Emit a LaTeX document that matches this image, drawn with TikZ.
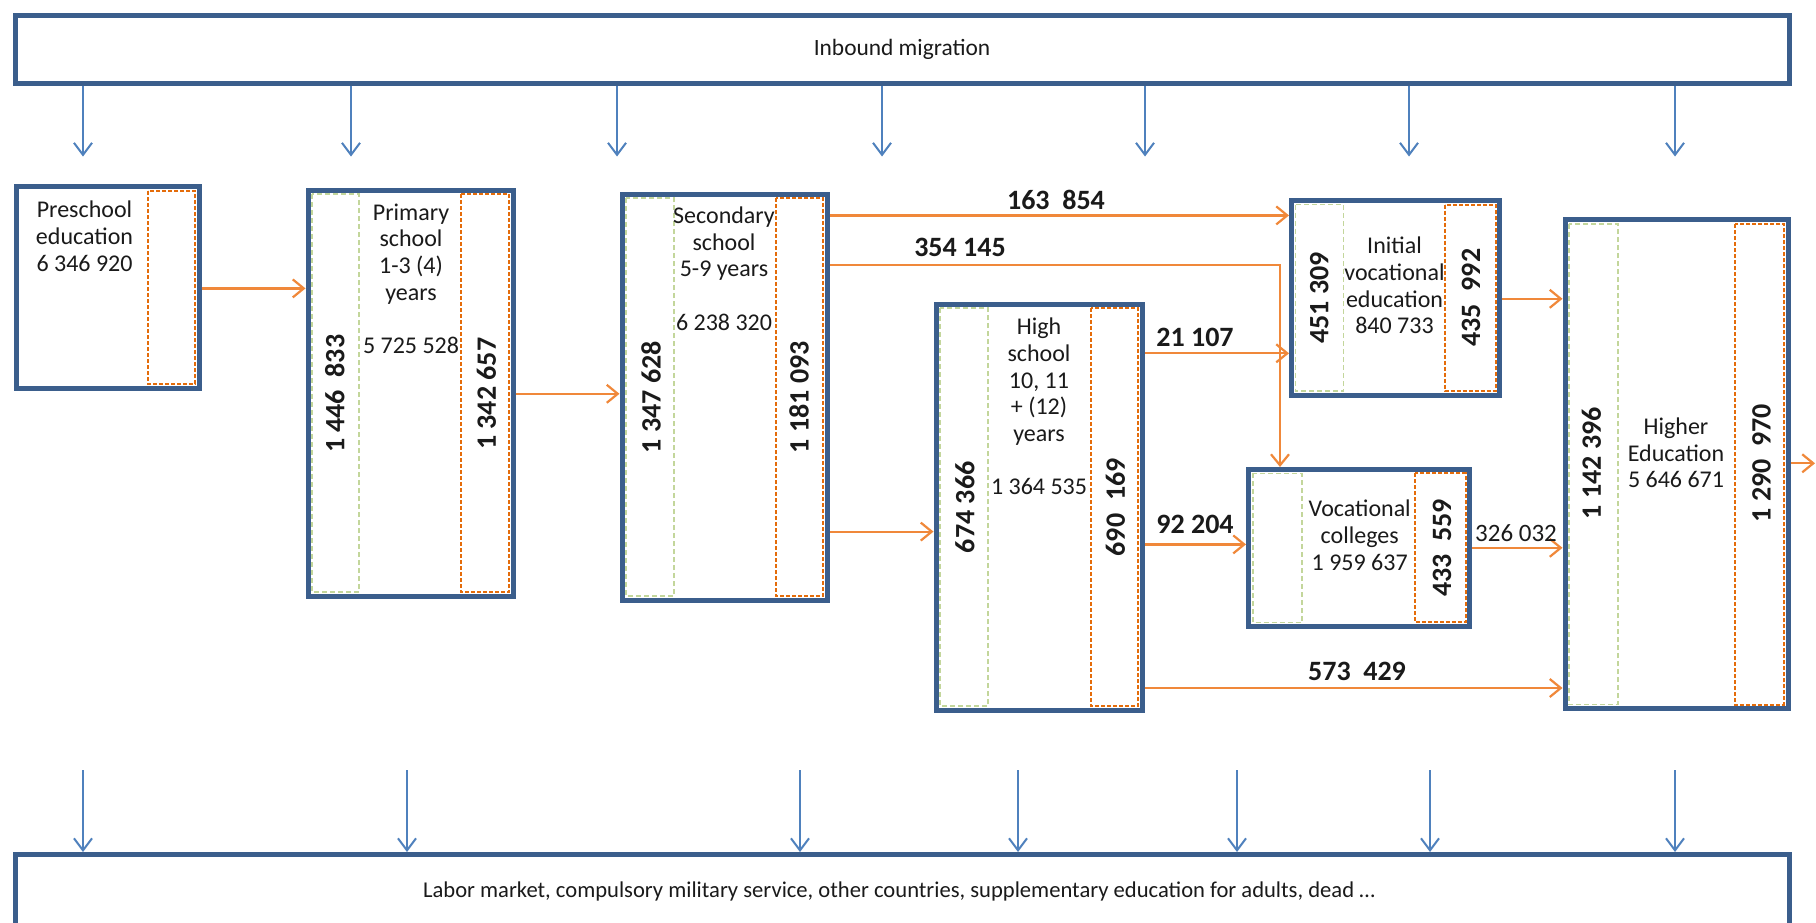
\documentclass[tikz,border=0pt]{standalone}
\usepackage{fontspec}
\setmainfont{Carlito}
\usetikzlibrary{arrows.meta,calc}
\definecolor{boxblue}{HTML}{3B5E8C}
\definecolor{arrblue}{HTML}{4F81BD}
\definecolor{flowor}{HTML}{F0883A}
\definecolor{dashor}{HTML}{E46C0A}
\definecolor{dashgr}{HTML}{C3D69B}
\definecolor{txt}{HTML}{1A1A1A}
\tikzset{
  box/.style={draw=boxblue, line width=5pt, fill=white, inner sep=0pt, rectangle},
  orcol/.style={draw=dashor, line width=2pt, dash pattern=on 4pt off 2pt},
  grcol/.style={draw=dashgr, line width=1.6pt, dash pattern=on 5pt off 3pt},
  ttl/.style={align=center, anchor=north, inner sep=0pt, text=txt, font=\fontsize{24}{26.6}\selectfont},
  vnum/.style={rotate=90, inner sep=0pt, text=txt, font=\fontsize{28}{30}\selectfont\bfseries},
  flab/.style={inner sep=0pt, text=txt, font=\fontsize{28}{30}\selectfont\bfseries},
  barr/.style={draw=arrblue, line width=2pt, -{Straight Barb[length=12pt,width=18pt]}},
  farr/.style={draw=flowor, line width=2.2pt, -{Straight Barb[length=11pt,width=18pt]}},
}
\begin{document}
\begin{tikzpicture}[x=1pt,y=-1pt]
\useasboundingbox (0,0) rectangle (1816,922);
\clip (0,0) rectangle (1816,922);
\fill[white] (0,0) rectangle (1816,922);

% migration boxes
\node[box, minimum width=1774pt, minimum height=68pt, text=txt, font=\fontsize{23.4}{25}\selectfont] (inb) at (902,49) {Inbound migration};
\node[box, minimum width=1774pt, minimum height=105pt] (out) at (902,907) {};
\node[inner sep=0pt, text=txt, font=\fontsize{22.6}{25}\selectfont] (outtxt) at (899,891) {Labor market, compulsory military service, other countries, supplementary education for adults, dead \dots};

% education boxes
\node[box, minimum width=183pt, minimum height=202pt] (pre) at (107.5,287) {};
\node[box, minimum width=205pt, minimum height=406pt] (prim) at (410.5,393) {};
\node[box, minimum width=205pt, minimum height=406pt] (sec) at (724.5,397) {};
\node[box, minimum width=206pt, minimum height=406pt] (high) at (1039,507) {};
\node[box, minimum width=208pt, minimum height=194.5pt] (init) at (1395.5,297.75) {};
\node[box, minimum width=221pt, minimum height=157pt] (voc) at (1359,548) {};
\node[box, minimum width=223pt, minimum height=489pt] (hi) at (1676.5,464) {};

% inner columns
\draw[orcol] (148,191) rectangle (195,384);
\draw[grcol] (312,194) rectangle (359,592);
\draw[orcol] (461,194) rectangle (509,592);
\draw[grcol] (626,198) rectangle (674,596);
\draw[orcol] (776,198) rectangle (823,596);
\draw[grcol] (940,308) rectangle (988,706);
\draw[orcol] (1091,308) rectangle (1138,706);
\draw[grcol] (1295.5,204.5) rectangle (1343.5,391);
\draw[orcol] (1445,204.5) rectangle (1495.5,391);
\draw[grcol] (1252.7,473.3) rectangle (1301.8,622.4);
\draw[orcol] (1415,473.3) rectangle (1465.5,622.4);
\draw[grcol] (1569,224) rectangle (1618,704.6);
\draw[orcol] (1735,224) rectangle (1784,704.6);

% titles
\node[ttl] (preT) at (84.5,201.1) {Preschool\\education\\6 346 920};
\node[ttl] (primT) at (411,203.5) {Primary\\school\\1-3 (4)\\years\\[26.6pt]5 725 528};
\node[ttl] (secT) at (724,206.9) {Secondary\\school\\5-9 years\\[26.6pt]6 238 320};
\node[ttl] (highT) at (1039,318.1) {High\\school\\10, 11\\+ (12)\\years\\[26.6pt]1 364 535};
\node[ttl] (initT) at (1394.5,237) {Initial\\vocational\\education\\840 733};
\node[ttl] (vocT) at (1359.7,500) {Vocational\\colleges\\1 959 637};
\node[ttl] (hiT) at (1676,417.7) {Higher\\Education\\5 646 671};

% vertical numbers
\node[vnum] (n1) at (334.7,393.8) {1 446\ \ 833};
\node[vnum] (n2) at (486.4,393.8) {1 342 657};
\node[vnum] (n3) at (651,397.3) {1 347 628};
\node[vnum] (n4) at (799,397.3) {1 181 093};
\node[vnum] (n5) at (964.8,507.3) {674 366};
\node[vnum] (n6) at (1115.3,507.3) {690\ \ 169};
\node[vnum] (n7) at (1319.2,297.7) {451 309};
\node[vnum] (n8) at (1470.9,297.7) {435\ \ 992};
\node[vnum] (n9) at (1442,547.8) {433\ \ 559};
\node[vnum] (n10) at (1591.4,463.3) {1 142 396};
\node[vnum] (n11) at (1761.6,463.3) {1 290\ \ 970};

% inbound arrows
\foreach \xx in {83,351,617,882,1145,1409,1675}
  \draw[barr] (inb.south -| \xx,0) -- ++(0,71);
% outbound arrows
\foreach \xx in {83,407,800,1018,1237,1430,1675}
  \draw[barr] (\xx,770) -- (out.north -| \xx,0);

% flows
\draw[farr] (pre.east |- 0,288.4) -- (prim.west |- 0,288.4);
\draw[farr] (prim.east |- 0,393.8) -- (sec.west |- 0,393.8);
\draw[farr] (sec.east |- 0,531.6) -- (high.west |- 0,531.6);
\draw[farr] (sec.east |- 0,215.4) -- (init.west |- 0,215.4);
\draw[farr] (sec.east |- 0,265.2) -| (voc.north -| 1280,0);
\draw[farr] (high.east |- 0,353.3) -- (init.west |- 0,353.3);
\draw[farr] (high.east |- 0,544.4) -- (voc.west |- 0,544.4);
\draw[farr] (high.east |- 0,688) -- (hi.west |- 0,688);
\draw[farr] (init.east |- 0,298.8) -- (hi.west |- 0,298.8);
\draw[farr] (voc.east |- 0,547.8) -- (hi.west |- 0,547.8);
\coordinate (exitpt) at (1815,463.3);
\draw[farr] (hi.east |- 0,463.3) -- (exitpt);

% flow labels
\node[flab] (l1) at (1056,200.4) {163\ \ 854};
\node[flab] (l2) at (960,247.9) {354 145};
\node[flab] (l3) at (1195,337) {21 107};
\node[flab] (l4) at (1195,524.7) {92 204};
\node[flab] (l5) at (1357,671.8) {573\ \ 429};
\node[inner sep=0pt, text=txt, font=\fontsize{25}{27}\selectfont] (l6) at (1516,532.8) {326 032};
\end{tikzpicture}
\end{document}
